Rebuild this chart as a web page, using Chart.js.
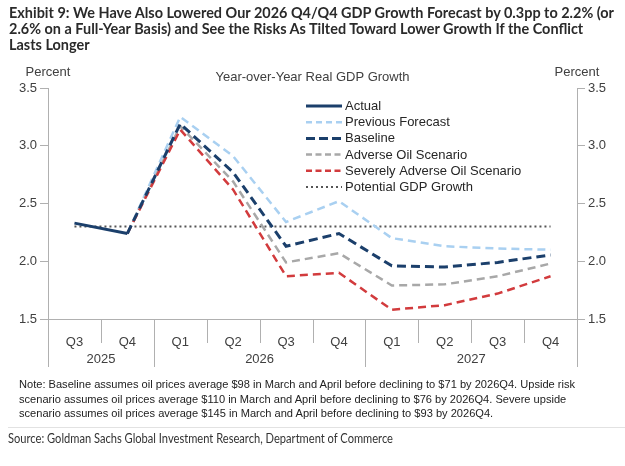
<!DOCTYPE html>
<html>
<head>
<meta charset="utf-8">
<script src="https://cdn.jsdelivr.net/npm/chart.js@4.4.0/dist/chart.umd.min.js"></script>
<style>
html,body{margin:0;padding:0;background:#fff;width:625px;height:466px;overflow:hidden;}
#wrap{position:absolute;left:0;top:0;width:625px;height:466px;}
.title{position:absolute;left:9px;top:4px;font-family:Lato,"Liberation Sans",sans-serif;font-weight:bold;font-size:15.5px;line-height:16px;color:#2a2a2a;white-space:nowrap;transform-origin:0 0;}
.title span,.note span,.source span{display:inline-block;}
.note{position:absolute;left:19px;top:377px;font-family:"Liberation Sans",Arial,sans-serif;font-size:11px;line-height:14.5px;color:#222;white-space:nowrap;}
.sep{position:absolute;left:8px;right:0;top:427px;height:1px;background:#e2e2e2;}
.source{position:absolute;left:8px;top:432px;font-family:Lato,"Liberation Sans",sans-serif;font-size:12.5px;line-height:14px;color:#333;white-space:nowrap;transform-origin:0 0;}
</style>
</head>
<body>
<div id="wrap"><canvas id="c"></canvas></div>
<div class="title" id="title"><span id="t1">Exhibit 9: We Have Also Lowered Our 2026 Q4/Q4 GDP Growth Forecast by 0.3pp to 2.2% (or</span><br><span>2.6% on a Full-Year Basis) and See the Risks As Tilted Toward Lower Growth If the Conflict</span><br><span>Lasts Longer</span></div>
<div class="note" id="note"><span id="n1">Note: Baseline assumes oil prices average $98 in March and April before declining to $71 by 2026Q4. Upside risk</span><br><span>scenario assumes oil prices average $110 in March and April before declining to $76 by 2026Q4. Severe upside</span><br><span>scenario assumes oil prices average $145 in March and April before declining to $93 by 2026Q4.</span></div>
<div class="sep"></div>
<div class="source" id="source"><span id="s1">Source: Goldman Sachs Global Investment Research, Department of Commerce</span></div>
<script>
// ---- data ----
const quarters = ['Q3','Q4','Q1','Q2','Q3','Q4','Q1','Q2','Q3','Q4'];
const years = ['2025','2026','2027'];
const yearSpans = [2, 4, 4];
const actual    = [2.33, 2.24, null, null, null, null, null, null, null, null];
const previous  = [null, 2.24, 3.25, 2.91, 2.34, 2.52, 2.20, 2.13, 2.11, 2.10];
const baseline  = [null, 2.24, 3.19, 2.77, 2.13, 2.24, 1.96, 1.95, 1.99, 2.055];
const adverse   = [null, 2.24, 3.17, 2.69, 1.99, 2.07, 1.79, 1.80, 1.87, 1.98];
const severe    = [null, 2.24, 3.14, 2.62, 1.87, 1.90, 1.58, 1.62, 1.72, 1.87];
const potential = [2.30, 2.30, 2.30, 2.30, 2.30, 2.30, 2.30, 2.30, 2.30, 2.30];
const seriesNames = ['Actual','Previous Forecast','Baseline','Adverse Oil Scenario','Severely Adverse Oil Scenario','Potential GDP Growth'];
const yTicks = [1.5, 2.0, 2.5, 3.0, 3.5];

// ---- fit text widths ----
function fitFont(container, span, target){
  const w = span.getBoundingClientRect().width;
  const fs = parseFloat(getComputedStyle(container).fontSize);
  container.style.fontSize = (fs * target / w) + 'px';
}
function fitScale(container, span, target){
  const w = span.getBoundingClientRect().width;
  container.style.transform = 'scaleX(' + (target / w) + ')';
}
fitScale(document.getElementById('title'), document.getElementById('t1'), 605);
fitFont(document.getElementById('note'), document.getElementById('n1'), 557);
fitScale(document.getElementById('source'), document.getElementById('s1'), 385);

const NAVY = '#1b3f6b', LBLUE = '#a9d0f1', GRAY = '#a8a8a8', RED = '#d23b3d', DOT = '#555555';
const AXIS = '#b0b0b0', TXT = '#404040';

Chart.defaults.font.family = '"Liberation Sans", Arial, sans-serif';
Chart.defaults.font.size = 13;
Chart.defaults.color = TXT;

const styles = [
  {data: actual,    color: NAVY,  width: 3,   dash: [],     order: 0},
  {data: previous,  color: LBLUE, width: 2.5, dash: [8, 5], order: 5},
  {data: baseline,  color: NAVY,  width: 3,   dash: [9, 5], order: 1},
  {data: adverse,   color: GRAY,  width: 2.5, dash: [8, 5], order: 3},
  {data: severe,    color: RED,   width: 2.5, dash: [8, 5], order: 2},
  {data: potential, color: DOT,   width: 2,   dash: [2, 3], order: 6}
];
const legendDash = [[], [6,4], [9,4], [6,3.5], [6,3.5], [2,3]];

const datasets = styles.map((s, i) => ({
  label: seriesNames[i], data: s.data, borderColor: s.color, backgroundColor: s.color,
  borderWidth: s.width, borderDash: s.dash, pointRadius: 0, tension: 0, fill: false,
  order: s.order, spanGaps: false, borderCapStyle: 'butt'
}));

const deco = {
  id: 'deco',
  afterDraw(chart) {
    const ctx = chart.ctx, x = chart.scales.x, ca = chart.chartArea;
    ctx.save();
    ctx.strokeStyle = AXIS; ctx.lineWidth = 1;
    const yearBounds = [0];
    yearSpans.reduce((a, b) => { yearBounds.push(a + b); return a + b; }, 0);
    for (let i = 0; i <= quarters.length; i++) {
      const px = Math.round(x.getPixelForValue(i - 0.5)) + 0.5;
      const isYear = yearBounds.includes(i);
      ctx.beginPath(); ctx.moveTo(px, ca.bottom); ctx.lineTo(px, ca.bottom + (isYear ? 48 : 24)); ctx.stroke();
    }
    ctx.fillStyle = TXT; ctx.font = '13px "Liberation Sans", Arial, sans-serif';
    ctx.textAlign = 'center'; ctx.textBaseline = 'middle';
    let start = 0;
    years.forEach((yr, k) => {
      const a = x.getPixelForValue(start - 0.5), b = x.getPixelForValue(start + yearSpans[k] - 0.5);
      ctx.fillText(yr, (a + b) / 2, ca.bottom + 40);
      start += yearSpans[k];
    });
    ctx.fillText('Percent', ca.left, 72);
    ctx.fillText('Percent', ca.right, 72);
    ctx.fillText('Year-over-Year Real GDP Growth', (ca.left + ca.right) / 2, 77);
    ctx.textAlign = 'left';
    seriesNames.forEach((nm, i) => {
      const yy = 106 + i * 16.2;
      const s = styles[i];
      ctx.strokeStyle = s.color; ctx.lineWidth = s.width; ctx.setLineDash(legendDash[i]);
      ctx.beginPath(); ctx.moveTo(306, yy); ctx.lineTo(342, yy); ctx.stroke();
      ctx.setLineDash([]);
      ctx.fillStyle = '#262626';
      ctx.fillText(nm, 345, yy + 0.5);
    });
    ctx.restore();
  }
};

const yCommon = {
  type: 'linear', min: 1.5, max: 3.5,
  afterBuildTicks: (s) => { s.ticks = yTicks.map(v => ({value: v})); },
  ticks: {padding: 3, color: TXT, callback: v => Number(v).toFixed(1)},
  grid: {drawOnChartArea: false, drawTicks: true, tickLength: 8, color: AXIS},
  border: {display: true, color: AXIS, width: 1},
  afterFit: (s) => { s.width = 48; }
};

new Chart(document.getElementById('c'), {
  type: 'line',
  data: {labels: quarters, datasets},
  options: {
    responsive: true, maintainAspectRatio: false, animation: false,
    layout: {padding: {top: 88, bottom: 99, left: 0, right: 0}},
    plugins: {legend: {display: false}, tooltip: {enabled: false}},
    scales: {
      x: {
        type: 'category', offset: true,
        grid: {display: false},
        border: {display: true, color: AXIS, width: 1},
        ticks: {padding: 8, color: TXT, maxRotation: 0, autoSkip: false},
        afterFit: (s) => { s.height = 48; }
      },
      y: Object.assign({}, yCommon, {position: 'left'}),
      y2: Object.assign({}, yCommon, {position: 'right'})
    }
  },
  plugins: [deco]
});
</script>
</body>
</html>
